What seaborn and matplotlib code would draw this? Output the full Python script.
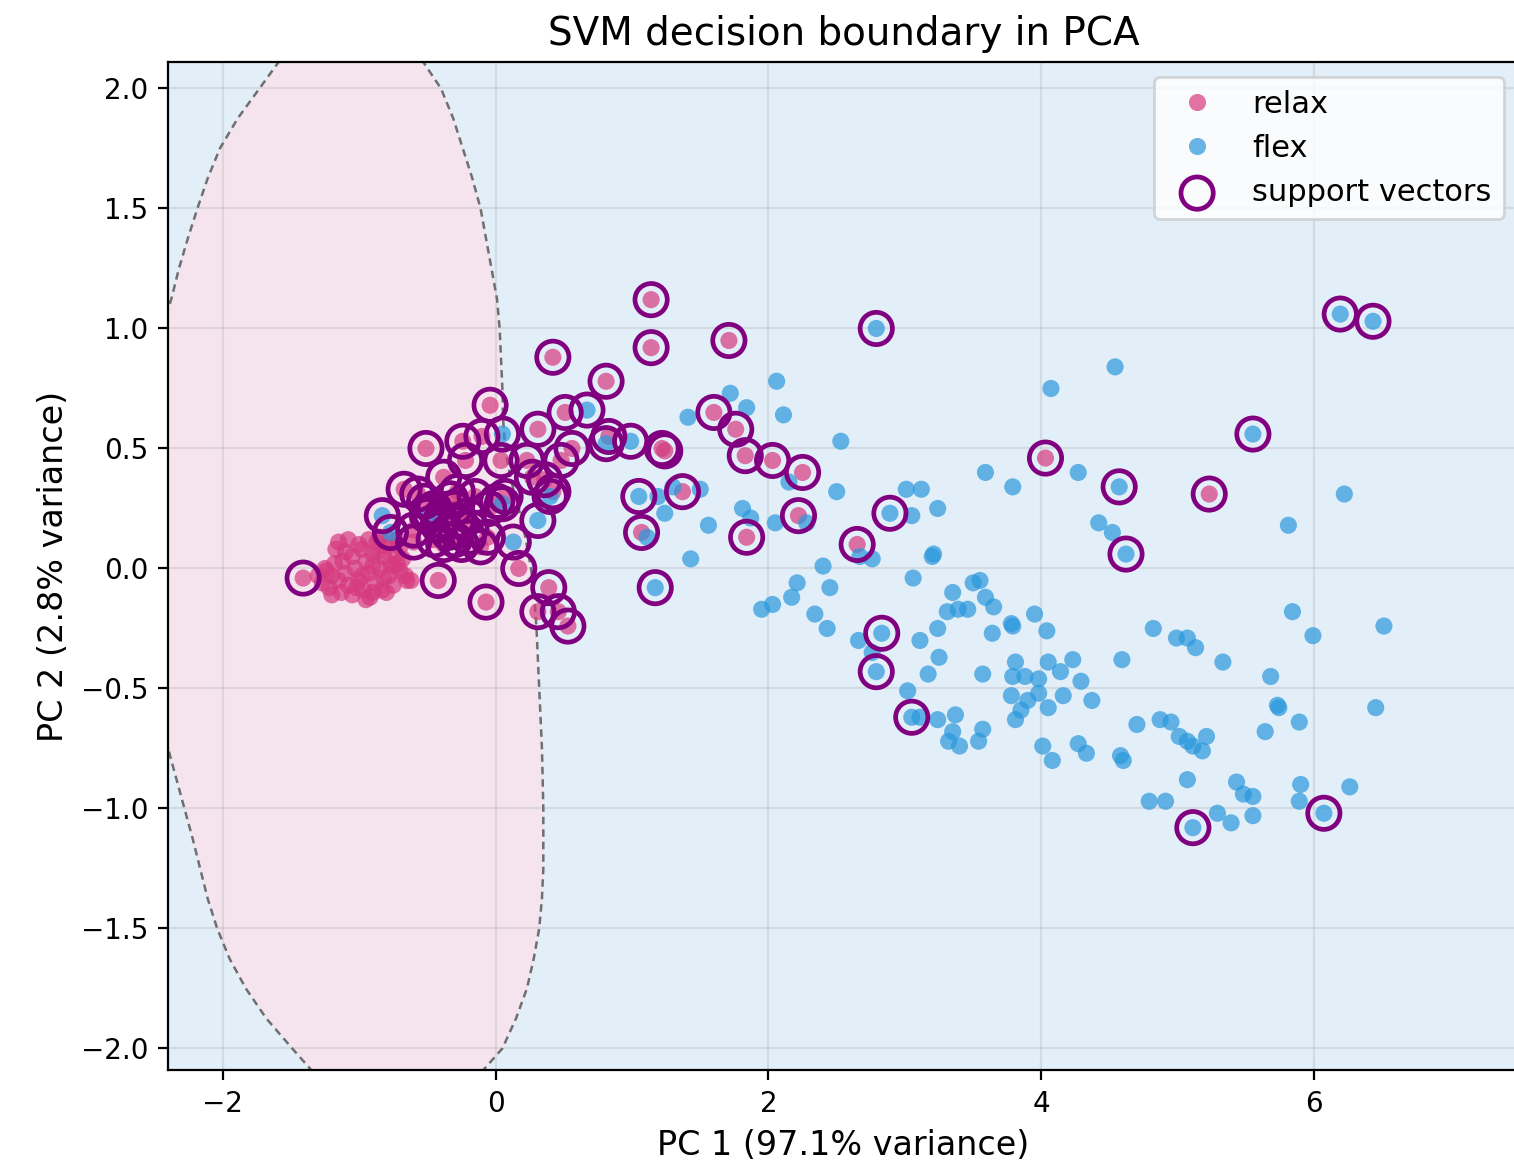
import numpy as np
import pandas as pd
import seaborn as sns
import matplotlib.pyplot as plt

# relax samples that are support vectors
relax_sv_x = [1.14, 1.14, 0.42, 1.71, 0.81, -0.04, 0.51, 0.31, 0.56, 0.48, 0.23, 0.27, 0.83, 1.22, 1.24,
              1.60, 1.76, 1.83, 2.03, 2.25, 0.42, 1.07, 1.37, 1.84, 2.22, 2.65, 4.03, 5.23, 0.17, 0.39,
              0.31, 0.46, 0.53, -0.42, -0.07, -1.41, -0.51, -0.24, -0.10, -0.22, 0.04, -0.38, -0.67, -0.57,
              -0.60, -0.60, -0.42, -0.33, -0.28, -0.20, -0.11, -0.06, 0.01, -0.45, -0.40, -0.35, -0.30,
              -0.25, -0.30, -0.38, -0.20, -0.15, -0.50, -0.45, -0.28, -0.05, -0.52, -0.18, 0.07, 0.36]
relax_sv_y = [1.12, 0.92, 0.88, 0.95, 0.78, 0.68, 0.65, 0.58, 0.50, 0.45, 0.45, 0.38, 0.55, 0.50, 0.49,
              0.65, 0.58, 0.47, 0.45, 0.40, 0.32, 0.15, 0.32, 0.13, 0.22, 0.10, 0.46, 0.31, 0.00, -0.08,
              -0.18, -0.18, -0.24, -0.05, -0.14, -0.04, 0.50, 0.53, 0.55, 0.45, 0.45, 0.38, 0.33, 0.31,
              0.16, 0.11, 0.18, 0.29, 0.20, 0.13, 0.09, 0.13, 0.28, 0.25, 0.20, 0.15, 0.25,
              0.10, 0.12, 0.10, 0.22, 0.30, 0.22, 0.12, 0.32, 0.25, 0.28, 0.17, 0.30, 0.37]

# relax samples inside the margin (dense cluster)
relax_x = [-1.30, -1.27, -1.25, -1.22, -1.20, -1.18, -1.15, -1.13, -1.12, -1.10, -1.08, -1.05, -1.05,
           -1.03, -1.00, -0.98, -0.97, -0.95, -0.93, -0.92, -0.90, -0.88, -0.87, -0.85, -0.83, -0.82,
           -0.80, -0.78, -0.77, -0.75, -0.73, -0.72, -0.70, -0.68, -0.65, -0.70, -1.10, -0.95, -1.00,
           -0.90, -0.66, -0.62, -1.15, -0.85, -1.20, -1.02, -0.80, -0.75, -1.17, -1.08, -0.93, -0.86,
           -0.78, -0.72, -1.24, -0.98, -0.90, -0.82]
relax_y = [-0.03, -0.06, 0.00, -0.08, -0.03, 0.02, -0.05, -0.10, 0.03, -0.02, -0.07, 0.05, -0.11,
           0.00, -0.05, 0.08, -0.09, 0.03, -0.02, -0.12, 0.06, -0.06, 0.11, 0.00, -0.09, 0.05,
           0.09, -0.03, 0.02, -0.07, 0.06, 0.12, -0.01, 0.04, -0.05, 0.09, 0.07, -0.13, 0.10,
           -0.10, -0.03, -0.05, 0.11, 0.13, -0.11, -0.08, -0.10, 0.01, 0.08, 0.12, 0.12, 0.07,
           0.12, 0.02, -0.01, -0.03, 0.01, -0.04]

# flex samples that are support vectors
flex_sv_x = [2.79, 6.19, 6.43, 5.55, 4.57, 4.62, 2.89, 2.83, 2.79, 3.05, 5.11, 6.07, 1.17, 1.05, 0.40,
             0.31, 0.13, 0.05, -0.83, -0.77, 0.67, 0.81, 0.99, -0.48, 0.05]
flex_sv_y = [1.00, 1.06, 1.03, 0.56, 0.34, 0.06, 0.23, -0.27, -0.43, -0.62, -1.08, -1.02, -0.08, 0.30, 0.30,
             0.20, 0.11, 0.56, 0.22, 0.15, 0.66, 0.52, 0.53, 0.23, 0.27]

# remaining flex samples
flex_x = [1.72, 1.84, 1.41, 1.50, 1.19, 1.24, 1.30, 1.56, 1.43, 1.81, 1.87, 1.11, 2.06, 2.11, 2.53,
          2.15, 2.50, 3.01, 3.12, 3.05, 3.24, 3.59, 2.05, 2.28, 2.67, 2.76, 3.21, 3.20, 2.40, 3.06,
          2.21, 2.45, 2.17, 3.35, 3.50, 3.55, 3.59, 3.65, 1.95, 2.03, 2.34, 2.43, 3.31, 3.39, 3.46,
          2.66, 2.76, 3.11, 3.24, 3.64, 3.25, 3.17, 3.57, 3.02, 3.11, 3.24, 3.37, 3.35, 3.57, 3.32,
          3.40, 3.54, 4.54, 4.07, 3.79, 4.27, 4.42, 4.52, 3.95, 3.78, 3.79, 4.04, 4.82, 4.99, 5.07,
          5.13, 5.33, 4.59, 3.81, 4.05, 4.23, 4.14, 3.79, 3.88, 3.98, 4.29, 3.78, 3.90, 3.98, 4.16,
          4.37, 4.05, 3.85, 3.81, 4.01, 4.27, 4.33, 4.08, 4.70, 4.58, 4.60, 4.87, 4.95, 5.01, 5.07,
          5.11, 5.18, 5.21, 5.07, 4.79, 4.91, 5.29, 5.39, 5.43, 6.22, 5.81, 5.84, 5.99, 6.51, 5.68,
          5.73, 5.74, 5.89, 5.64, 6.45, 5.48, 5.55, 5.55, 5.90, 5.89, 6.26]
flex_y = [0.73, 0.67, 0.63, 0.33, 0.30, 0.23, 0.34, 0.18, 0.04, 0.25, 0.21, 0.13, 0.78, 0.64, 0.53,
          0.36, 0.32, 0.33, 0.33, 0.22, 0.25, 0.40, 0.19, 0.19, 0.05, 0.04, 0.06, 0.05, 0.01, -0.04,
          -0.06, -0.08, -0.12, -0.10, -0.06, -0.05, -0.12, -0.16, -0.17, -0.15, -0.19, -0.25, -0.18, -0.17, -0.17,
          -0.30, -0.35, -0.30, -0.25, -0.27, -0.37, -0.44, -0.44, -0.51, -0.62, -0.63, -0.61, -0.68, -0.67, -0.72,
          -0.74, -0.72, 0.84, 0.75, 0.34, 0.40, 0.19, 0.15, -0.19, -0.23, -0.24, -0.26, -0.25, -0.29, -0.29,
          -0.33, -0.39, -0.38, -0.39, -0.39, -0.38, -0.43, -0.45, -0.45, -0.46, -0.47, -0.53, -0.55, -0.52, -0.53,
          -0.55, -0.58, -0.59, -0.63, -0.74, -0.73, -0.77, -0.80, -0.65, -0.78, -0.80, -0.63, -0.64, -0.70, -0.72,
          -0.74, -0.76, -0.70, -0.88, -0.97, -0.97, -1.02, -1.06, -0.89, 0.31, 0.18, -0.18, -0.28, -0.24, -0.45,
          -0.57, -0.58, -0.64, -0.68, -0.58, -0.94, -0.95, -1.03, -0.90, -0.97, -0.91]

# decision boundary around the relax region (clockwise from top left)
boundary_x = [-1.47, -1.59, -1.73, -1.89, -2.02, -2.11, -2.185, -2.255, -2.32, -2.375, -2.40,
              -2.55, -2.60, -2.55,
              -2.40, -2.34, -2.28, -2.22, -2.165, -2.11, -2.04, -1.95, -1.83, -1.68, -1.49, -1.35, -1.22,
              -0.25, -0.09, 0.05, 0.15, 0.23, 0.28, 0.32, 0.34, 0.35, 0.35, 0.34, 0.32, 0.30, 0.285, 0.26,
              0.22, 0.17, 0.11, 0.07, 0.055, 0.05, 0.04, 0.03, 0.01, -0.03, -0.07, -0.11, -0.17, -0.24,
              -0.31, -0.40, -0.53, -0.61]
boundary_y = [2.20, 2.11, 2.00, 1.875, 1.75, 1.625, 1.50, 1.375, 1.25, 1.125, 1.08,
              0.80, 0.20, -0.50,
              -0.75, -0.875, -1.00, -1.125, -1.25, -1.375, -1.50, -1.625, -1.75, -1.875, -2.00, -2.09, -2.20,
              -2.20, -2.09, -2.00, -1.875, -1.75, -1.625, -1.50, -1.375, -1.25, -1.00, -0.75, -0.50, -0.25, -0.125, 0.00,
              0.125, 0.25, 0.375, 0.50, 0.625, 0.75, 0.875, 1.00, 1.125, 1.25, 1.375, 1.50, 1.625, 1.75,
              1.875, 2.00, 2.11, 2.20]

relax_color = "#d63a7f"
flex_color = "#2a98dc"

points = pd.DataFrame({
    "pc1": relax_x + relax_sv_x + flex_x + flex_sv_x,
    "pc2": relax_y + relax_sv_y + flex_y + flex_sv_y,
    "label": ["relax"] * (len(relax_x) + len(relax_sv_x)) + ["flex"] * (len(flex_x) + len(flex_sv_x)),
})
sv = pd.DataFrame({"pc1": relax_sv_x + flex_sv_x, "pc2": relax_sv_y + flex_sv_y})

fig = plt.figure(figsize=(7.57, 5.855), dpi=200)
ax = fig.add_axes([0.111, 0.0862, 0.8923, 0.8608])
ax.set_facecolor("#e2eef8")

ax.fill(boundary_x, boundary_y, color="#f5e4ee", zorder=0, lw=0)
ax.plot(boundary_x, boundary_y, ls="--", color="#6f6f6f", lw=0.9, dashes=(3, 2), zorder=1)
ax.set_axisbelow(True)
ax.grid(True, alpha=0.3)

sns.scatterplot(data=points, x="pc1", y="pc2", hue="label", hue_order=["relax", "flex"],
                palette={"relax": relax_color, "flex": flex_color}, s=38, alpha=0.7,
                edgecolor="none", ax=ax)
sns.scatterplot(data=sv, x="pc1", y="pc2", s=135, facecolor="none", edgecolor="purple",
                linewidth=1.7, label="support vectors", ax=ax)

ax.set_xlim(-2.4, 7.5)
ax.set_ylim(-2.09, 2.11)
ax.set_title("SVM decision boundary in PCA", fontsize=14)
ax.set_xlabel("PC 1 (97.1% variance)", fontsize=12)
ax.set_ylabel("PC 2 (2.8% variance)", fontsize=12)
ax.legend(loc="upper right", fontsize=11)

fig.savefig("out.png", dpi=200)
